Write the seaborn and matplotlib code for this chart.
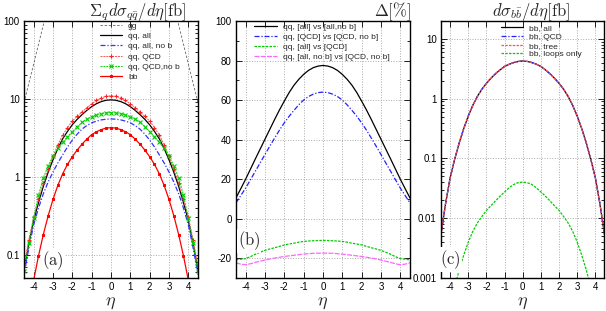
import numpy as np
import seaborn as sns
import matplotlib
matplotlib.use('Agg')
import matplotlib.pyplot as plt
from matplotlib.ticker import FixedLocator, LogLocator, NullFormatter

# pseudorapidity grid
eta = [-4.5, -4.25, -4.0, -3.75, -3.5, -3.25, -3.0, -2.75, -2.5, -2.25, -2.0, -1.75, -1.5,
       -1.25, -1.0, -0.75, -0.5, -0.25, 0.0, 0.25, 0.5, 0.75, 1.0, 1.25, 1.5, 1.75, 2.0,
       2.25, 2.5, 2.75, 3.0, 3.25, 3.5, 3.75, 4.0, 4.25, 4.5]

# panel (a): sum_q dsigma/deta [fb]
gg = [8.9, 15.8, 28, 50, 89, 158, 282, 450, 750, 1100, 1400, 1700, 2000, 2300, 2550, 2750,
      2900, 2980, 3000, 2980, 2900, 2750, 2550, 2300, 2000, 1700, 1400, 1100, 750, 450, 282,
      158, 89, 50, 28, 15.8, 8.9]
qq_all = [0.0627, 0.137, 0.274, 0.465, 0.753, 1.14, 1.65, 2.30, 3.07, 3.82, 4.65, 5.46, 6.27,
          7.11, 7.94, 8.67, 9.23, 9.59, 9.70, 9.59, 9.23, 8.67, 7.94, 7.11, 6.27, 5.46, 4.65,
          3.82, 3.07, 2.30, 1.65, 1.14, 0.753, 0.465, 0.274, 0.137, 0.0627]
qq_all_nob = [0.0552, 0.121, 0.241, 0.395, 0.605, 0.855, 1.15, 1.50, 1.91, 2.41, 2.96, 3.52,
              4.09, 4.54, 4.92, 5.18, 5.37, 5.48, 5.52, 5.48, 5.37, 5.18, 4.92, 4.54, 4.09,
              3.52, 2.96, 2.41, 1.91, 1.50, 1.15, 0.855, 0.605, 0.395, 0.241, 0.121, 0.0552]
qq_qcd = [0.0724, 0.155, 0.305, 0.513, 0.832, 1.26, 1.82, 2.57, 3.43, 4.27, 5.19, 5.96, 6.76,
          7.67, 8.61, 9.55, 10.30, 10.79, 10.96, 10.79, 10.30, 9.55, 8.61, 7.67, 6.76, 5.96,
          5.19, 4.27, 3.43, 2.57, 1.82, 1.26, 0.832, 0.513, 0.305, 0.155, 0.0724]
qq_qcd_nob = [0.0608, 0.139, 0.291, 0.581, 0.964, 1.39, 1.84, 2.31, 2.78, 3.27, 3.80, 4.41,
              5.00, 5.48, 5.89, 6.22, 6.47, 6.62, 6.67, 6.62, 6.47, 6.22, 5.89, 5.48, 5.00,
              4.41, 3.80, 3.27, 2.78, 2.31, 1.84, 1.39, 0.964, 0.581, 0.291, 0.139, 0.0608]
bb = [0.00537, 0.0174, 0.0468, 0.0962, 0.181, 0.315, 0.511, 0.773, 1.09, 1.44, 1.81, 2.20,
      2.62, 3.04, 3.47, 3.78, 4.03, 4.21, 4.27, 4.21, 4.03, 3.78, 3.47, 3.04, 2.62, 2.20,
      1.81, 1.44, 1.09, 0.773, 0.511, 0.315, 0.181, 0.0962, 0.0468, 0.0174, 0.00537]

# panel (b): Delta [%]
d_all = [10.5, 15.2, 20.0, 25.1, 30.2, 35.2, 40.2, 45.2, 50.2, 55.0, 59.5, 63.8, 67.5, 70.5,
         73.0, 75.0, 76.4, 77.2, 77.5, 77.2, 76.4, 75.0, 73.0, 70.5, 67.5, 63.8, 59.5, 55.0,
         50.2, 45.2, 40.2, 35.2, 30.2, 25.1, 20.0, 15.2, 10.5]
d_qcd = [8.0, 11.7, 15.5, 19.7, 24.0, 28.2, 32.5, 36.7, 40.8, 44.8, 48.5, 51.8, 54.8, 57.6,
         60.0, 61.8, 63.0, 63.8, 64.0, 63.8, 63.0, 61.8, 60.0, 57.6, 54.8, 51.8, 48.5, 44.8,
         40.8, 36.7, 32.5, 28.2, 24.0, 19.7, 15.5, 11.7, 8.0]
d_all_qcd = [-20.8, -20.5, -20.2, -19.2, -18.0, -17.0, -16.0, -15.3, -14.7, -14.0, -13.3,
             -12.8, -12.4, -11.9, -11.5, -11.3, -11.15, -11.05, -11.0, -11.05, -11.15, -11.3,
             -11.5, -11.9, -12.4, -12.8, -13.3, -14.0, -14.7, -15.3, -16.0, -17.0, -18.0,
             -19.2, -20.2, -20.5, -20.8]
d_nob = [-22.3, -23.0, -23.3, -22.8, -22.1, -21.5, -20.9, -20.4, -19.9, -19.5, -19.1, -18.8,
         -18.5, -18.2, -17.9, -17.7, -17.5, -17.45, -17.4, -17.45, -17.5, -17.7, -17.9, -18.2,
         -18.5, -18.8, -19.1, -19.5, -19.9, -20.4, -20.9, -21.5, -22.1, -22.8, -23.3, -23.0,
         -22.3]

# panel (c): dsigma_bb/deta [fb]
bb_loops = [0.0000631, 0.000158, 0.000355, 0.000708, 0.00135, 0.00240, 0.00398, 0.00603,
            0.00832, 0.0107, 0.0135, 0.0162, 0.0195, 0.0234, 0.0275, 0.0324, 0.0367, 0.0394,
            0.0403, 0.0394, 0.0367, 0.0324, 0.0275, 0.0234, 0.0195, 0.0162, 0.0135, 0.0107,
            0.00832, 0.00603, 0.00398, 0.00240, 0.00135, 0.000708, 0.000355, 0.000158,
            0.0000631]

sns.set_style('ticks')
plt.rcParams['font.family'] = ['Liberation Sans', 'DejaVu Sans']
plt.rcParams['mathtext.fontset'] = 'cm'
plt.rcParams['axes.unicode_minus'] = False

fig = plt.figure(figsize=(6.06, 3.11), dpi=100)
axA = fig.add_axes([0.0396, 0.1061, 0.2871, 0.8264])
axB = fig.add_axes([0.3894, 0.1061, 0.2871, 0.8264])
axC = fig.add_axes([0.7277, 0.1061, 0.2698, 0.8264])


def style(ax):
    ax.set_xlim(-4.5, 4.5)
    ax.set_xticks(range(-4, 5))
    ax.tick_params(which='both', direction='in', top=True, right=True,
                   labelsize=7, pad=3, width=0.6, colors='black')
    ax.tick_params(which='major', length=4)
    ax.tick_params(which='minor', length=2)
    ax.grid(True, which='major', color='#aaaaaa', linestyle=':', linewidth=0.7)
    for s in ax.spines.values():
        s.set_linewidth(1.0)
        s.set_color('black')
    ax.set_xlabel(r'$\eta$', fontsize=13, labelpad=1)


def logy(ax, lo, hi, ticks, labels):
    ax.set_yscale('log')
    ax.set_ylim(lo, hi)
    ax.yaxis.set_major_locator(FixedLocator(ticks))
    ax.set_yticklabels(labels)
    ax.yaxis.set_minor_locator(LogLocator(base=10, subs=np.arange(2, 10)))
    ax.yaxis.set_minor_formatter(NullFormatter())


lw = 0.9
leg_kw = dict(loc='upper left', frameon=False, fontsize=6, handlelength=2.7,
              handletextpad=0.7, borderpad=0.1, borderaxespad=0)

# (a)
sns.lineplot(x=eta, y=gg, ax=axA, color='#666666', linewidth=0.6,
             linestyle=(0, (3, 2)), label='gg')
sns.lineplot(x=eta, y=qq_all, ax=axA, color='black', linewidth=lw, label='qq, all')
sns.lineplot(x=eta, y=qq_all_nob, ax=axA, color='#3333ff', linewidth=lw,
             linestyle=(0, (4, 1.5, 1, 1.5)), label='qq, all, no b')
sns.lineplot(x=eta, y=qq_qcd, ax=axA, color='#ff5050', linewidth=0.7,
             linestyle=(0, (2, 1)), marker='+', markersize=3.5,
             markeredgecolor='#ff2020', markeredgewidth=0.8, label='qq, QCD')
sns.lineplot(x=eta, y=qq_qcd_nob, ax=axA, color='#00dd00', linewidth=0.7,
             linestyle=(0, (2, 1)), marker='x', markersize=2.8,
             markeredgecolor='#00cc00', markeredgewidth=0.8, label='qq, QCD,no b')
sns.lineplot(x=eta, y=bb, ax=axA, color='#ff0000', linewidth=0.9, marker='s',
             markersize=2, markeredgecolor='#ff0000', markerfacecolor='#ff0000',
             label='bb')
style(axA)
logy(axA, 0.05, 100, [0.1, 1, 10, 100], ['0.1', '1', '10', '100'])
axA.legend(bbox_to_anchor=(0.43, 1.0), labelspacing=0.3, **leg_kw)
axA.text(0.167, 0.066, r'$(\mathrm{a})$', transform=axA.transAxes, fontsize=12,
         ha='center', va='center',
         bbox=dict(facecolor='white', edgecolor='none', pad=0.5))

# (b)
sns.lineplot(x=eta, y=d_all, ax=axB, color='black', linewidth=lw,
             label='qq, [all] vs [all,no b]')
sns.lineplot(x=eta, y=d_qcd, ax=axB, color='#2222ff', linewidth=lw,
             linestyle=(0, (4, 1.5, 1, 1.5)), label='qq, [QCD] vs [QCD, no b]')
sns.lineplot(x=eta, y=d_all_qcd, ax=axB, color='#00cc00', linewidth=lw,
             linestyle=(0, (2, 1)), label='qq, [all] vs [QCD]')
sns.lineplot(x=eta, y=d_nob, ax=axB, color='#ff66ff', linewidth=lw,
             linestyle=(0, (4, 1)), label='qq, [all, no b] vs [QCD, no b]')
style(axB)
axB.set_ylim(-30, 100)
axB.set_yticks(range(-20, 101, 20))
axB.yaxis.set_minor_locator(FixedLocator(range(-30, 101, 10)))
axB.legend(bbox_to_anchor=(0.10, 0.995), labelspacing=0.25, **leg_kw)
axB.text(0.075, 0.144, r'$(\mathrm{b})$', transform=axB.transAxes, fontsize=12,
         ha='center', va='center',
         bbox=dict(facecolor='white', edgecolor='none', pad=0.5))

# (c)
sns.lineplot(x=eta, y=bb, ax=axC, color='black', linewidth=lw, label='bb, all')
sns.lineplot(x=eta, y=bb, ax=axC, color='#2222ff', linewidth=lw,
             linestyle=(0, (4, 1.5, 1, 1.5)), label='bb, QCD')
sns.lineplot(x=eta, y=bb, ax=axC, color='#ff5050', linewidth=lw,
             linestyle=(0, (2, 1)), label='bb, tree')
sns.lineplot(x=eta, y=bb_loops, ax=axC, color='#00cc00', linewidth=lw,
             linestyle=(0, (2, 1)), label='bb, loops only')
style(axC)
logy(axC, 0.001, 20, [0.001, 0.01, 0.1, 1, 10], ['0.001', '0.01', '0.1', '1', '10'])
axC.legend(bbox_to_anchor=(0.36, 0.99), labelspacing=0.1, **leg_kw)
axC.text(0.06, 0.072, r'$(\mathrm{c})$', transform=axC.transAxes, fontsize=12,
         ha='center', va='center',
         bbox=dict(facecolor='white', edgecolor='none', pad=0.5))

# panel titles
fig.text(0.228, 0.962, r'$\Sigma_q d\sigma_{q\bar{q}}/d\eta[\mathrm{fb}]$',
         fontsize=12, ha='center', va='center')
fig.text(0.647, 0.962, r'$\Delta[\%]$', fontsize=12, ha='center', va='center')
fig.text(0.876, 0.962, r'$d\sigma_{b\bar{b}}/d\eta[\mathrm{fb}]$',
         fontsize=12, ha='center', va='center')

fig.savefig('out.png', dpi=100)
